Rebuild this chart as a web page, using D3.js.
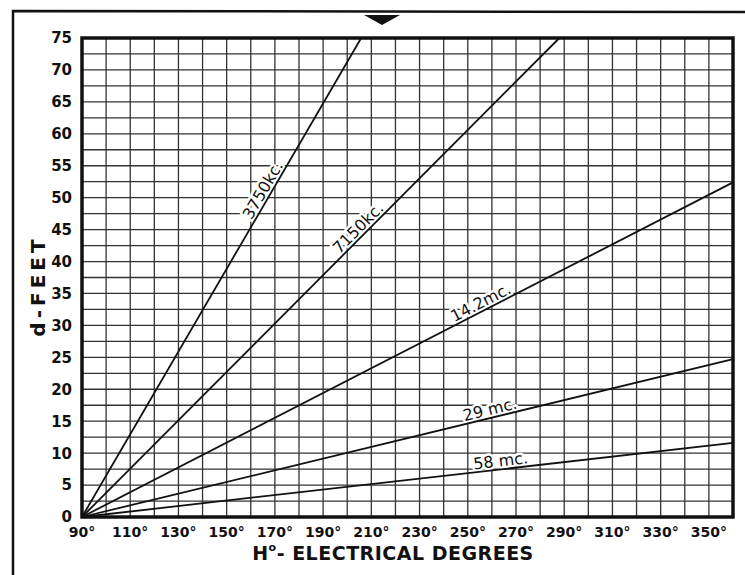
<!DOCTYPE html>
<html>
<head>
<meta charset="utf-8">
<script src="https://cdn.jsdelivr.net/npm/d3@7"></script>
<style>
  body { margin: 0; background: #fff; }
  svg { display: block; }
  .tick-y, .tick-x { font-family: "DejaVu Sans", sans-serif; font-weight: bold; fill: #111; }
  .curve-lbl { font-family: "DejaVu Sans", sans-serif; font-size: 16px; fill: #111; }
  .curve-halo { font-family: "DejaVu Sans", sans-serif; font-size: 16px; fill: #fff;
                stroke: #fff; stroke-width: 5px; stroke-linejoin: round; }
  .title { font-family: "DejaVu Sans", sans-serif; fill: #111; }
</style>
</head>
<body>
<svg id="chart" width="745" height="575"></svg>
<script>
// chart values
var hTicks = [90, 110, 130, 150, 170, 190, 210, 230, 250, 270, 290, 310, 330, 350];
var dTicks = [0, 5, 10, 15, 20, 25, 30, 35, 40, 45, 50, 55, 60, 65, 70, 75];
var names = ["3750kc.", "7150kc.", "14.2mc.", "29 mc.", "58 mc."];
// each line starts at (90°, 0 ft); end point
var endH = [205.8, 288, 360, 360, 360];
var endD = [75, 75, 52.4, 24.7, 11.6];
// H value where each label sits along its line
var labelH = [168, 207, 257, 260, 264];

var svg = d3.select("#chart");

var x = d3.scaleLinear().domain([90, 360]).range([82, 733]);
var y = d3.scaleLinear().domain([0, 75]).range([517, 38]);

// outer frame of the figure
svg.append("path")
  .attr("d", "M13,575 L13,11 L745,12")
  .attr("fill", "none").attr("stroke", "#111").attr("stroke-width", 2.5);

// little arrow at top
svg.append("path")
  .attr("d", "M364,15 L400,15 L382,25 Z")
  .attr("fill", "#111");

// grid
svg.append("g").selectAll("line")
  .data(d3.range(100, 360, 10))
  .enter().append("line")
  .attr("x1", function(d) { return x(d); })
  .attr("x2", function(d) { return x(d); })
  .attr("y1", y(0)).attr("y2", y(75))
  .attr("stroke", "#333").attr("stroke-width", 1.3);

svg.append("g").selectAll("line")
  .data(d3.range(2.5, 75, 2.5))
  .enter().append("line")
  .attr("y1", function(d) { return y(d); })
  .attr("y2", function(d) { return y(d); })
  .attr("x1", x(90)).attr("x2", x(360))
  .attr("stroke", "#333").attr("stroke-width", 1.3);

// plot border
svg.append("rect")
  .attr("x", x(90)).attr("y", y(75))
  .attr("width", x(360) - x(90)).attr("height", y(0) - y(75))
  .attr("fill", "none").attr("stroke", "#111").attr("stroke-width", 3.5);

// tick labels
svg.append("g").selectAll("text")
  .data(dTicks)
  .enter().append("text")
  .attr("class", "tick-y")
  .attr("x", 72)
  .attr("y", function(d) { return y(d); })
  .attr("dy", "0.36em")
  .attr("text-anchor", "end")
  .attr("font-size", 15)
  .text(function(d) { return d; });

svg.append("g").selectAll("text")
  .data(hTicks)
  .enter().append("text")
  .attr("class", "tick-x")
  .attr("x", function(d) { return x(d); })
  .attr("y", 537)
  .attr("text-anchor", "middle")
  .attr("font-size", 14)
  .text(function(d) { return d + "°"; });

// lines
var lines = names.map(function(n, i) {
  return {name: n, h1: endH[i], d1: endD[i], lh: labelH[i]};
});

function lblPos(d) {
  var ang = Math.atan2(y(d.d1) - y(0), x(d.h1) - x(90)) * 180 / Math.PI;
  var ld = d.d1 * (d.lh - 90) / (d.h1 - 90);
  return "translate(" + x(d.lh) + "," + y(ld) + ") rotate(" + ang + ")";
}

// white halo behind labels knocks out the grid
svg.append("g").selectAll("text")
  .data(lines)
  .enter().append("text")
  .attr("class", "curve-halo")
  .attr("text-anchor", "middle")
  .attr("dy", -3)
  .attr("transform", lblPos)
  .text(function(d) { return d.name; });

svg.append("g").selectAll("line")
  .data(lines)
  .enter().append("line")
  .attr("x1", x(90)).attr("y1", y(0))
  .attr("x2", function(d) { return x(d.h1); })
  .attr("y2", function(d) { return y(d.d1); })
  .attr("stroke", "#111").attr("stroke-width", 1.8);

svg.append("g").selectAll("text")
  .data(lines)
  .enter().append("text")
  .attr("class", "curve-lbl")
  .attr("text-anchor", "middle")
  .attr("dy", -3)
  .attr("transform", lblPos)
  .text(function(d) { return d.name; });

// axis titles
var xt = svg.append("text")
  .attr("class", "title")
  .attr("x", 393).attr("y", 560)
  .attr("text-anchor", "middle")
  .attr("font-size", 19)
  .attr("font-weight", 600)
  .attr("letter-spacing", 0.5);
xt.append("tspan").text("H");
xt.append("tspan").attr("font-size", 11).attr("dy", -9).text("o");
xt.append("tspan").attr("dy", 9).text("- ELECTRICAL DEGREES");

svg.append("text")
  .attr("class", "title")
  .attr("transform", "translate(45,286) rotate(-90)")
  .attr("text-anchor", "middle")
  .attr("font-size", 20)
  .attr("font-weight", "bold")
  .attr("letter-spacing", 4)
  .text("d-FEET");
</script>
</body>
</html>
